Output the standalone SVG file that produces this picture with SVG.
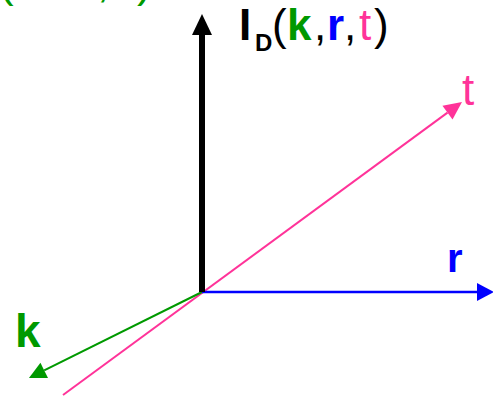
<svg xmlns="http://www.w3.org/2000/svg" width="493" height="398" viewBox="0 0 493 398">
<style>
text{font-family:"Liberation Sans",Arial,sans-serif;}
.b{font-weight:bold;}
.g{fill:#009900;}
.bl{fill:#0000ff;}
.p{fill:#ff3399;}
.k{fill:#000;}
</style>
<defs>
<marker id="mBlack" markerUnits="userSpaceOnUse" markerWidth="21" markerHeight="21" refX="0" refY="10" orient="auto" overflow="visible"><path d="M0,0 L21,10 L0,20 z" fill="#000"/></marker>
<marker id="mBlue" markerUnits="userSpaceOnUse" markerWidth="17" markerHeight="18" refX="0" refY="9" orient="auto" overflow="visible"><path d="M0,0 L17,9 L0,18 z" fill="#0000ff"/></marker>
<marker id="mGreen" markerUnits="userSpaceOnUse" markerWidth="17" markerHeight="17" refX="0" refY="8.5" orient="auto" overflow="visible"><path d="M0,0 L17,8.5 L0,17 z" fill="#009900"/></marker>
<marker id="mPink" markerUnits="userSpaceOnUse" markerWidth="18" markerHeight="17" refX="0" refY="8.5" orient="auto" overflow="visible"><path d="M0,0 L18,8.5 L0,17 z" fill="#ff3399"/></marker>
</defs>
<g id="connectors">
<line x1="63" y1="395" x2="447.5" y2="112.6" stroke="#ff3399" stroke-width="2" marker-end="url(#mPink)"/>
<line x1="202" y1="292" x2="44.2" y2="370.4" stroke="#009900" stroke-width="2" marker-end="url(#mGreen)"/>
<line x1="202" y1="292" x2="477" y2="292" stroke="#0000ff" stroke-width="2.5" marker-end="url(#mBlue)"/>
<line x1="202" y1="292" x2="202" y2="35" stroke="#000" stroke-width="6" marker-end="url(#mBlack)"/>
</g>
<g id="top-left-label">
<text class="g" font-size="44" y="-3"><tspan x="-1">(</tspan><tspan x="20">k</tspan><tspan x="97">,</tspan><tspan x="115">t</tspan><tspan x="137">)</tspan></text>
</g>
<g id="title">
<text font-size="44" y="40"><tspan x="239" class="b k">I</tspan><tspan x="255" y="51" font-size="24" class="b k">D</tspan><tspan x="272" y="40" class="k">(</tspan><tspan x="287" class="b g">k</tspan><tspan x="314" class="k">,</tspan><tspan x="327" class="b bl">r</tspan><tspan x="344" class="k">,</tspan><tspan x="359" class="p">t</tspan><tspan x="374" class="k">)</tspan></text>
</g>
<g id="label-t"><text class="p" font-size="44" x="462" y="105">t</text></g>
<g id="label-r"><text class="b bl" font-size="40" x="447" y="272">r</text></g>
<g id="label-k"><text class="b g" font-size="46" x="15" y="347">k</text></g>
</svg>
